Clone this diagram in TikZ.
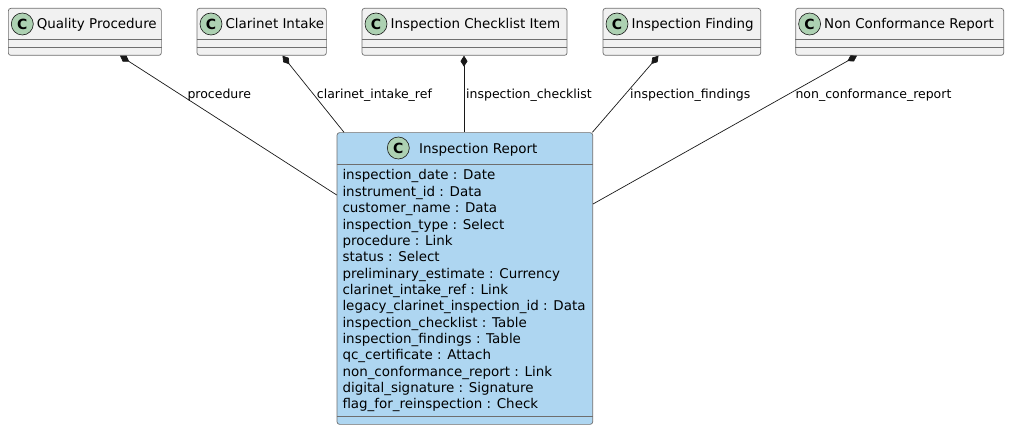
\documentclass[tikz,border=0pt]{standalone}
\usepackage{fontspec}
\setmainfont{DejaVu Sans}
\usetikzlibrary{arrows.meta,calc}
\definecolor{boxfill}{HTML}{F1F1F1}
\definecolor{mainfill}{HTML}{AED6F1}
\definecolor{badge}{HTML}{ADD1B2}
\definecolor{frame}{HTML}{181818}
\definecolor{framegray}{HTML}{6E6E6E}
\tikzset{
 cls/.style={draw=framegray, line width=0.7pt, fill=boxfill, rounded corners=2.5pt, inner sep=0pt, anchor=north west},
 sep/.style={draw=framegray, line width=0.7pt},
 badgenode/.style={circle, draw=frame, line width=0.6pt, fill=badge, minimum size=22pt, inner sep=0pt, font=\fontsize{14}{14}\selectfont\bfseries},
 ttl/.style={anchor=base west, inner sep=0pt, font=\fontsize{13.44}{16}\selectfont},
 fld/.style={anchor=base west, inner sep=0pt, font=\fontsize{13.44}{16}\selectfont},
 lbl/.style={anchor=base west, inner sep=0pt, font=\fontsize{12.5}{14}\selectfont},
 comp/.style={draw=frame, line width=0.7pt, {Diamond[length=11pt,width=7pt]}-},
}
\newcommand\classbox[4]{%
 \node[cls, minimum width=#3, minimum height=47] (#1) at (#2,-8) {};
 \draw[sep] ([yshift=-31.3]#1.north west) -- ([yshift=-31.3]#1.north east);
 \draw[sep] ([yshift=-39.3]#1.north west) -- ([yshift=-39.3]#1.north east);
 \node[badgenode] (#1c) at ([xshift=14.3,yshift=-16]#1.north west) {C};
 \node[ttl] (#1t) at ([xshift=28.7,yshift=-20.5]#1.north west) {#4};
}
\begin{document}
\begin{tikzpicture}[x=1pt,y=1pt]
\useasboundingbox (0,0) rectangle (1009,-430);
\classbox{qp}{8}{153}{Quality Procedure}
\classbox{ci}{196.7}{129.3}{Clarinet Intake}
\classbox{cl}{361.7}{205}{Inspection Checklist Item}
\classbox{fi}{602.7}{157.6}{Inspection Finding}
\classbox{nc}{795.3}{208}{Non Conformance Report}
% main class
\node[cls, fill=mainfill, minimum width=255.6, minimum height=291.7] (ir) at (336.7,-132.3) {};
\draw[sep] ([yshift=-32]ir.north west) -- ([yshift=-32]ir.north east);
\draw[sep] ([yshift=-284.4]ir.north west) -- ([yshift=-284.4]ir.north east);
\node[badgenode] (irc) at ([xshift=61.6,yshift=-15.7]ir.north west) {C};
\node[ttl] (irt) at ([xshift=82.3,yshift=-21]ir.north west) {Inspection Report};
\foreach \t [count=\i from 0] in {inspection\_date : Date, instrument\_id : Data, customer\_name : Data, inspection\_type : Select, procedure : Link, status : Select, preliminary\_estimate : Currency, clarinet\_intake\_ref : Link, legacy\_clarinet\_inspection\_id : Data, inspection\_checklist : Table, inspection\_findings : Table, qc\_certificate : Attach, non\_conformance\_report : Link, digital\_signature : Signature, flag\_for\_reinspection : Check}
  \node[fld] (f\i) at ([xshift=5.6,yshift={-47.7-16.35*\i}]ir.north west) {\t};
% connectors
\draw[comp] ($(qp.south west)+(112,0)$) -- ($(ir.north west)+(0,-62.7)$);
\draw[comp] ($(ci.south west)+(85.8,0)$) -- ($(ir.north west)+(7.3,0)$);
\draw[comp] ($(cl.south west)+(102.3,0)$) -- ($(ir.north west)+(127.3,0)$);
\draw[comp] ($(fi.south west)+(55.8,0)$) -- ($(ir.north east)+(-0.6,0)$);
\draw[comp] ($(nc.south west)+(61.7,0)$) -- ($(ir.north east)+(0,-71.7)$);
% labels
\node[lbl] (l1) at (187.3,-98.5) {procedure};
\node[lbl] (l2) at (316.7,-98.5) {clarinet\_intake\_ref};
\node[lbl] (l3) at (466,-98.5) {inspection\_checklist};
\node[lbl] (l4) at (630,-98.5) {inspection\_findings};
\node[lbl] (l5) at (795.3,-98.5) {non\_conformance\_report};
\end{tikzpicture}
\end{document}
